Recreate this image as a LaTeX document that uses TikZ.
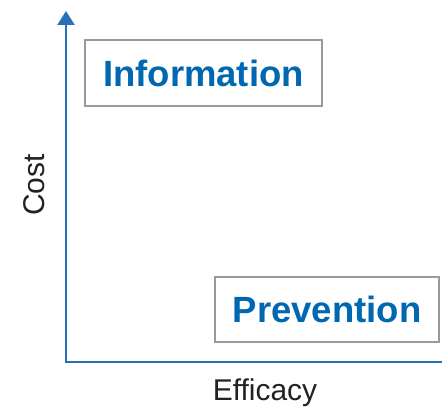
\documentclass[tikz,border=0pt]{standalone}
\usepackage{fontspec}
\setmainfont{Liberation Sans}
\usetikzlibrary{arrows.meta}
\definecolor{axisblue}{HTML}{2A70B8}
\definecolor{textblue}{HTML}{0067B1}
\definecolor{boxgray}{HTML}{9A9A9A}
\definecolor{labelgray}{HTML}{222222}
\tikzset{
  axisline/.style={draw=axisblue, line width=2.6pt},
  catbox/.style={draw=boxgray, line width=1.4pt, fill=white, inner sep=0pt,
    font=\fontsize{36.5}{40}\selectfont\bfseries, text=textblue},
  axislabel/.style={font=\fontsize{30}{34}\selectfont, text=labelgray, inner sep=0pt}
}
\begin{document}
\begin{tikzpicture}[x=1pt,y=1pt]
\useasboundingbox (0,0) rectangle (442,408);
\coordinate (origin) at (66,46);
\coordinate (xend) at (443,46);
\coordinate (ytip) at (66,397);
\draw[axisline, -{Triangle[length=14pt,width=17pt]}] (xend) -- (origin) -- (ytip);
\node[catbox, minimum width=237pt, minimum height=66pt] (info) at (203.5,335) {Information};
\node[catbox, minimum width=224pt, minimum height=65pt] (prev) at (327,98.5) {Prevention};
\node[axislabel, rotate=90] (cost) at (34,223) {Cost};
\node[axislabel, anchor=base] (eff) at (265,8) {Efficacy};
\end{tikzpicture}
\end{document}
